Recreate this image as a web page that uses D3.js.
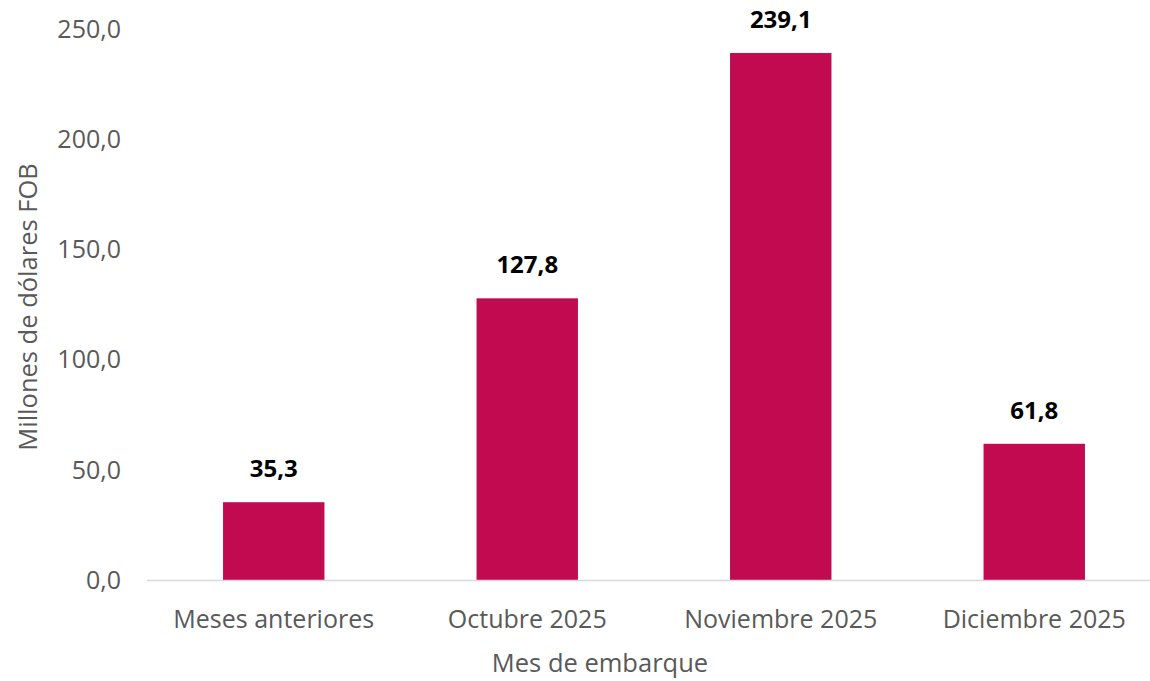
<!DOCTYPE html>
<html>
<head>
<meta charset="utf-8">
<script src="https://cdn.jsdelivr.net/npm/d3@7"></script>
<style>
  body { margin: 0; background: #fff; }
  svg text { font-family: "Open Sans", "Noto Sans", sans-serif; }
  .tick-label { fill: #595959; font-size: 25px; }
  .axis-title { fill: #595959; font-size: 25.5px; }
  .bar-label { fill: #000; font-size: 24px; font-weight: bold; }
</style>
</head>
<body>
<div id="chart"></div>
<script>
const categories = ['Meses anteriores', 'Octubre 2025', 'Noviembre 2025', 'Diciembre 2025'];
const values = [35.3, 127.8, 239.1, 61.8];
const yTicks = [0, 50, 100, 150, 200, 250];

const width = 1150, height = 681;
const margin = {top: 29, right: -11, bottom: 101, left: 147};

const fmt = v => d3.format('.1f')(v).replace('.', ',');

const svg = d3.select('#chart').append('svg')
    .attr('width', width)
    .attr('height', height);

const x = d3.scaleBand()
    .domain(categories)
    .range([margin.left, width - margin.right])
    .paddingInner(0.6)
    .paddingOuter(0.3);

const y = d3.scaleLinear()
    .domain([0, 250])
    .range([height - margin.bottom, margin.top]);

// y tick labels
svg.append('g')
    .selectAll('text')
    .data(yTicks)
  .join('text')
    .attr('class', 'tick-label')
    .attr('x', 121)
    .attr('y', d => y(d))
    .attr('dy', '0.35em')
    .attr('text-anchor', 'end')
    .text(d => fmt(d));

// bars
svg.append('g')
    .selectAll('rect')
    .data(values)
  .join('rect')
    .attr('x', (d, i) => x(categories[i]))
    .attr('y', d => y(d))
    .attr('width', x.bandwidth())
    .attr('height', d => y(0) - y(d))
    .attr('fill', '#C20A50');

// baseline
svg.append('line')
    .attr('x1', margin.left)
    .attr('x2', width)
    .attr('y1', y(0) + 0.5)
    .attr('y2', y(0) + 0.5)
    .attr('stroke', '#d9d9d9')
    .attr('stroke-width', 1.5);

// value labels
svg.append('g')
    .selectAll('text')
    .data(values)
  .join('text')
    .attr('class', 'bar-label')
    .attr('x', (d, i) => x(categories[i]) + x.bandwidth() / 2)
    .attr('y', d => y(d) - 25)
    .attr('text-anchor', 'middle')
    .text(d => fmt(d));

// category labels
svg.append('g')
    .selectAll('text')
    .data(categories)
  .join('text')
    .attr('class', 'tick-label')
    .attr('x', d => x(d) + x.bandwidth() / 2)
    .attr('y', y(0) + 48)
    .attr('text-anchor', 'middle')
    .text(d => d);

// axis titles
svg.append('text')
    .attr('class', 'axis-title')
    .attr('x', 600)
    .attr('y', 672)
    .attr('text-anchor', 'middle')
    .text('Mes de embarque');

svg.append('text')
    .attr('class', 'axis-title')
    .attr('transform', 'translate(37,307) rotate(-90)')
    .attr('text-anchor', 'middle')
    .text('Millones de dólares FOB');
</script>
</body>
</html>
